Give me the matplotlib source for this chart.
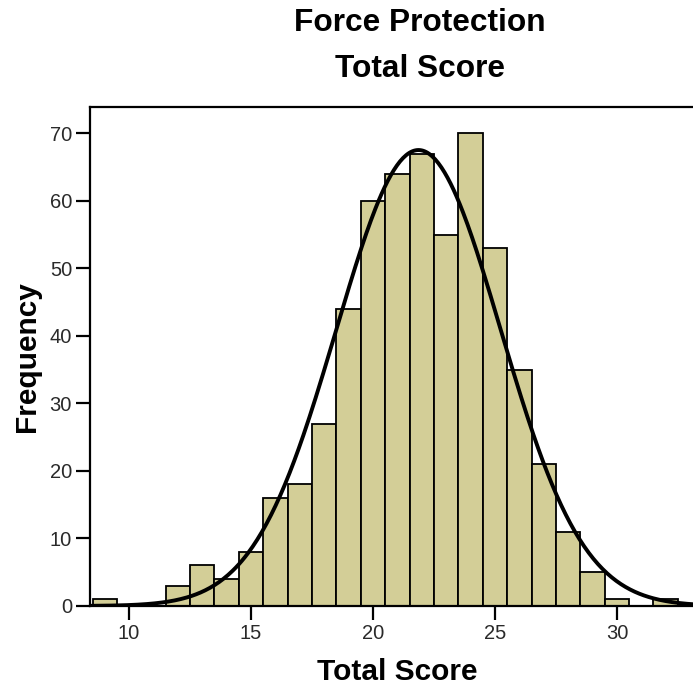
import numpy as np
import matplotlib
matplotlib.use("Agg")
import matplotlib.pyplot as plt

# histogram counts (bins of width 1, centred on integers)
scores = [9, 10, 11, 12, 13, 14, 15, 16, 17, 18, 19, 20, 21,
          22, 23, 24, 25, 26, 27, 28, 29, 30, 31, 32]
counts = [1, 0, 0, 3, 6, 4, 8, 16, 18, 27, 44, 60, 64,
          67, 55, 70, 53, 35, 21, 11, 5, 1, 0, 1]
xticks = [10, 15, 20, 25, 30]
yticks = [0, 10, 20, 30, 40, 50, 60, 70]

plt.rcParams['font.family'] = ['Liberation Sans', 'DejaVu Sans']

fig = plt.figure(figsize=(6.93, 6.89), dpi=100)
ax = fig.add_axes([0.130, 0.1205, 0.870, 0.7242])

x = np.array(scores, dtype=float)
c = np.array(counts, dtype=float)
ax.bar(x, c, width=1.0, color='#D3CE97', edgecolor='black', linewidth=1.3, zorder=2)

# normal curve fitted from the counts
n = c.sum()
mu = (x * c).sum() / n
sd = np.sqrt(((x - mu) ** 2 * c).sum() / (n - 1))
xs = np.linspace(8.4, 33.5, 400)
ys = n / (sd * np.sqrt(2 * np.pi)) * np.exp(-0.5 * ((xs - mu) / sd) ** 2)
ax.plot(xs, ys, color='black', linewidth=2.8, zorder=3)

ax.set_xlim(8.40, 33.12)
ax.set_ylim(0, 73.9)
ax.set_xticks(xticks)
ax.set_yticks(yticks)
ax.tick_params(direction='out', length=10, width=1.6, pad=3, labelsize=14.5, labelcolor='#2a2a2a')
for s in ['left', 'bottom', 'top']:
    ax.spines[s].set_linewidth(1.6)
ax.spines['right'].set_visible(False)

ax.set_xlabel('Total Score', fontsize=21.5, fontweight='bold')
ax.set_ylabel('Frequency', fontsize=21.5, fontweight='bold')
ax.xaxis.label.set_verticalalignment('center')
ax.yaxis.label.set_verticalalignment('center')
ax.xaxis.set_label_coords(0.509, -0.132)
ax.yaxis.set_label_coords(-0.1045, 0.499)
fig.text(0.606, 0.966, 'Force Protection', ha='center', va='center', fontsize=22.8, fontweight='bold')
fig.text(0.606, 0.900, 'Total Score', ha='center', va='center', fontsize=22.8, fontweight='bold')

fig.savefig('out.png', dpi=100)
